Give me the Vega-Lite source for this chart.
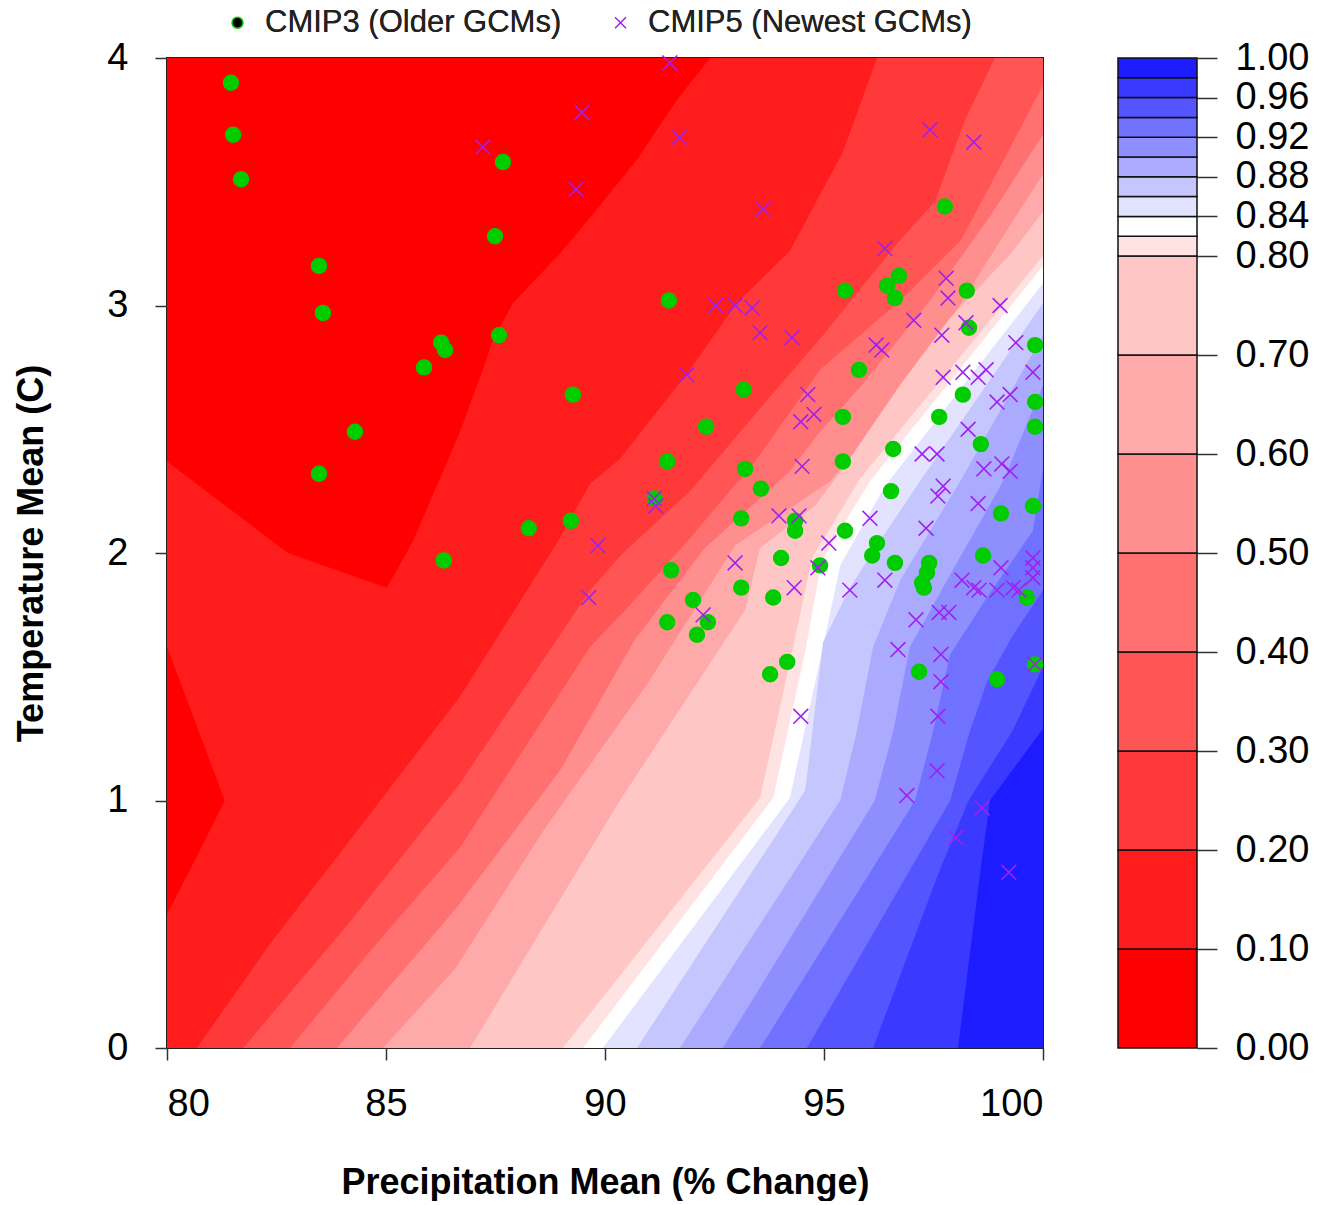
{
  "$schema": "https://vega.github.io/schema/vega-lite/v6.json",
  "background": "white",
  "padding": {"left": 12, "top": 6, "right": 0, "bottom": 0},
  "spacing": 75,
  "bounds": "flush",
  "config": {
    "font": "Liberation Sans",
    "view": {"stroke": null},
    "axis": {"labelFont": "Liberation Sans", "labelFontSize": 38, "labelColor": "#000", "tickColor": "#333", "tickWidth": 1.5, "domain": false, "grid": false, "titleFont": "Liberation Sans", "titleFontSize": 36, "titleFontWeight": "bold", "titleColor": "#000"}
  },
  "datasets": {
    "contours": [
      {"lvl": "0.00", "i": 1, "x": 80, "y": 0}, {"lvl": "0.00", "i": 2, "x": 80, "y": 4}, {"lvl": "0.00", "i": 3, "x": 100, "y": 4}, {"lvl": "0.00", "i": 4, "x": 100, "y": 0},
      {"lvl": "0.10", "i": 1, "x": 92.4, "y": 4}, {"lvl": "0.10", "i": 2, "x": 91.64, "y": 3.83}, {"lvl": "0.10", "i": 3, "x": 90.73, "y": 3.59}, {"lvl": "0.10", "i": 4, "x": 89.73, "y": 3.37}, {"lvl": "0.10", "i": 5, "x": 88.97, "y": 3.21}, {"lvl": "0.10", "i": 6, "x": 87.9, "y": 3.01}, {"lvl": "0.10", "i": 7, "x": 87.44, "y": 2.86}, {"lvl": "0.10", "i": 8, "x": 87.21, "y": 2.74}, {"lvl": "0.10", "i": 9, "x": 86.69, "y": 2.49}, {"lvl": "0.10", "i": 10, "x": 85.62, "y": 2.05}, {"lvl": "0.10", "i": 11, "x": 85.02, "y": 1.86}, {"lvl": "0.10", "i": 12, "x": 82.76, "y": 2.0}, {"lvl": "0.10", "i": 13, "x": 80, "y": 2.37}, {"lvl": "0.10", "i": 14, "x": 80, "y": 1.62}, {"lvl": "0.10", "i": 15, "x": 81.32, "y": 1.0}, {"lvl": "0.10", "i": 16, "x": 80.64, "y": 0.76}, {"lvl": "0.10", "i": 17, "x": 80, "y": 0.54}, {"lvl": "0.10", "i": 18, "x": 80, "y": 0}, {"lvl": "0.10", "i": 19, "x": 100, "y": 0}, {"lvl": "0.10", "i": 20, "x": 100, "y": 4},
      {"lvl": "0.20", "i": 1, "x": 96.21, "y": 4}, {"lvl": "0.20", "i": 2, "x": 95.43, "y": 3.62}, {"lvl": "0.20", "i": 3, "x": 94.22, "y": 3.22}, {"lvl": "0.20", "i": 4, "x": 93.01, "y": 3.01}, {"lvl": "0.20", "i": 5, "x": 91.94, "y": 2.74}, {"lvl": "0.20", "i": 6, "x": 90.34, "y": 2.38}, {"lvl": "0.20", "i": 7, "x": 89.66, "y": 2.28}, {"lvl": "0.20", "i": 8, "x": 88.9, "y": 2.04}, {"lvl": "0.20", "i": 9, "x": 86.69, "y": 1.42}, {"lvl": "0.20", "i": 10, "x": 84.57, "y": 0.93}, {"lvl": "0.20", "i": 11, "x": 82.35, "y": 0.42}, {"lvl": "0.20", "i": 12, "x": 80.68, "y": 0}, {"lvl": "0.20", "i": 13, "x": 100, "y": 0}, {"lvl": "0.20", "i": 14, "x": 100, "y": 4},
      {"lvl": "0.30", "i": 1, "x": 98.9, "y": 4}, {"lvl": "0.30", "i": 2, "x": 98.22, "y": 3.75}, {"lvl": "0.30", "i": 3, "x": 97.53, "y": 3.42}, {"lvl": "0.30", "i": 4, "x": 96.62, "y": 3.24}, {"lvl": "0.30", "i": 5, "x": 94.98, "y": 2.88}, {"lvl": "0.30", "i": 6, "x": 93.47, "y": 2.57}, {"lvl": "0.30", "i": 7, "x": 91.94, "y": 2.25}, {"lvl": "0.30", "i": 8, "x": 90.41, "y": 2.0}, {"lvl": "0.30", "i": 9, "x": 89.66, "y": 1.85}, {"lvl": "0.30", "i": 10, "x": 86.69, "y": 1.07}, {"lvl": "0.30", "i": 11, "x": 84.18, "y": 0.51}, {"lvl": "0.30", "i": 12, "x": 81.74, "y": 0}, {"lvl": "0.30", "i": 13, "x": 100, "y": 0}, {"lvl": "0.30", "i": 14, "x": 100, "y": 4},
      {"lvl": "0.40", "i": 1, "x": 100, "y": 3.89}, {"lvl": "0.40", "i": 2, "x": 99.02, "y": 3.56}, {"lvl": "0.40", "i": 3, "x": 98.11, "y": 3.26}, {"lvl": "0.40", "i": 4, "x": 96.74, "y": 3.02}, {"lvl": "0.40", "i": 5, "x": 94.91, "y": 2.74}, {"lvl": "0.40", "i": 6, "x": 93.47, "y": 2.38}, {"lvl": "0.40", "i": 7, "x": 91.94, "y": 2.06}, {"lvl": "0.40", "i": 8, "x": 90.57, "y": 1.79}, {"lvl": "0.40", "i": 9, "x": 89.66, "y": 1.62}, {"lvl": "0.40", "i": 10, "x": 86.69, "y": 0.81}, {"lvl": "0.40", "i": 11, "x": 84.63, "y": 0.39}, {"lvl": "0.40", "i": 12, "x": 82.81, "y": 0}, {"lvl": "0.40", "i": 13, "x": 100, "y": 0},
      {"lvl": "0.50", "i": 1, "x": 100, "y": 3.69}, {"lvl": "0.50", "i": 2, "x": 98.79, "y": 3.36}, {"lvl": "0.50", "i": 3, "x": 97.42, "y": 3.02}, {"lvl": "0.50", "i": 4, "x": 95.82, "y": 2.67}, {"lvl": "0.50", "i": 5, "x": 94.91, "y": 2.49}, {"lvl": "0.50", "i": 6, "x": 94.22, "y": 2.33}, {"lvl": "0.50", "i": 7, "x": 92.28, "y": 2.02}, {"lvl": "0.50", "i": 8, "x": 90.68, "y": 1.65}, {"lvl": "0.50", "i": 9, "x": 88.97, "y": 1.12}, {"lvl": "0.50", "i": 10, "x": 86.58, "y": 0.56}, {"lvl": "0.50", "i": 11, "x": 83.88, "y": 0}, {"lvl": "0.50", "i": 12, "x": 100, "y": 0},
      {"lvl": "0.60", "i": 1, "x": 100, "y": 3.53}, {"lvl": "0.60", "i": 2, "x": 99.02, "y": 3.26}, {"lvl": "0.60", "i": 3, "x": 97.88, "y": 2.94}, {"lvl": "0.60", "i": 4, "x": 96.28, "y": 2.53}, {"lvl": "0.60", "i": 5, "x": 95.14, "y": 2.29}, {"lvl": "0.60", "i": 6, "x": 92.97, "y": 2.03}, {"lvl": "0.60", "i": 7, "x": 91.0, "y": 1.48}, {"lvl": "0.60", "i": 8, "x": 88.6, "y": 0.88}, {"lvl": "0.60", "i": 9, "x": 86.58, "y": 0.32}, {"lvl": "0.60", "i": 10, "x": 84.93, "y": 0}, {"lvl": "0.60", "i": 11, "x": 100, "y": 0},
      {"lvl": "0.70", "i": 1, "x": 100, "y": 3.38}, {"lvl": "0.70", "i": 2, "x": 99.32, "y": 3.22}, {"lvl": "0.70", "i": 3, "x": 97.88, "y": 2.95}, {"lvl": "0.70", "i": 4, "x": 96.74, "y": 2.68}, {"lvl": "0.70", "i": 5, "x": 95.43, "y": 2.34}, {"lvl": "0.70", "i": 6, "x": 94.79, "y": 2.19}, {"lvl": "0.70", "i": 7, "x": 93.54, "y": 2.02}, {"lvl": "0.70", "i": 8, "x": 93.2, "y": 1.77}, {"lvl": "0.70", "i": 9, "x": 90.34, "y": 1.0}, {"lvl": "0.70", "i": 10, "x": 86.92, "y": 0}, {"lvl": "0.70", "i": 11, "x": 100, "y": 0},
      {"lvl": "0.80", "i": 1, "x": 100, "y": 3.2}, {"lvl": "0.80", "i": 2, "x": 95.82, "y": 2.3}, {"lvl": "0.80", "i": 3, "x": 94.73, "y": 1.98}, {"lvl": "0.80", "i": 4, "x": 94.27, "y": 1.6}, {"lvl": "0.80", "i": 5, "x": 93.54, "y": 1.01}, {"lvl": "0.80", "i": 6, "x": 89.04, "y": 0}, {"lvl": "0.80", "i": 7, "x": 100, "y": 0},
      {"lvl": "0.82", "i": 1, "x": 100, "y": 3.16}, {"lvl": "0.82", "i": 2, "x": 96.05, "y": 2.29}, {"lvl": "0.82", "i": 3, "x": 94.95, "y": 1.97}, {"lvl": "0.82", "i": 4, "x": 94.57, "y": 1.6}, {"lvl": "0.82", "i": 5, "x": 93.84, "y": 1.01}, {"lvl": "0.82", "i": 6, "x": 89.5, "y": 0}, {"lvl": "0.82", "i": 7, "x": 100, "y": 0},
      {"lvl": "0.84", "i": 1, "x": 100, "y": 3.09}, {"lvl": "0.84", "i": 2, "x": 96.39, "y": 2.27}, {"lvl": "0.84", "i": 3, "x": 95.37, "y": 1.95}, {"lvl": "0.84", "i": 4, "x": 94.95, "y": 1.6}, {"lvl": "0.84", "i": 5, "x": 94.22, "y": 1.01}, {"lvl": "0.84", "i": 6, "x": 89.95, "y": 0}, {"lvl": "0.84", "i": 7, "x": 100, "y": 0},
      {"lvl": "0.86", "i": 1, "x": 100, "y": 3.01}, {"lvl": "0.86", "i": 2, "x": 97.19, "y": 2.29}, {"lvl": "0.86", "i": 3, "x": 96.28, "y": 2.05}, {"lvl": "0.86", "i": 4, "x": 95.59, "y": 1.86}, {"lvl": "0.86", "i": 5, "x": 94.98, "y": 1.64}, {"lvl": "0.86", "i": 6, "x": 94.57, "y": 1.04}, {"lvl": "0.86", "i": 7, "x": 90.73, "y": 0}, {"lvl": "0.86", "i": 8, "x": 100, "y": 0},
      {"lvl": "0.88", "i": 1, "x": 100, "y": 2.88}, {"lvl": "0.88", "i": 2, "x": 98.11, "y": 2.29}, {"lvl": "0.88", "i": 3, "x": 96.74, "y": 1.89}, {"lvl": "0.88", "i": 4, "x": 96.12, "y": 1.62}, {"lvl": "0.88", "i": 5, "x": 95.75, "y": 1.28}, {"lvl": "0.88", "i": 6, "x": 95.37, "y": 1.0}, {"lvl": "0.88", "i": 7, "x": 91.71, "y": 0}, {"lvl": "0.88", "i": 8, "x": 100, "y": 0},
      {"lvl": "0.90", "i": 1, "x": 100, "y": 2.68}, {"lvl": "0.90", "i": 2, "x": 99.09, "y": 2.29}, {"lvl": "0.90", "i": 3, "x": 97.81, "y": 1.89}, {"lvl": "0.90", "i": 4, "x": 96.96, "y": 1.62}, {"lvl": "0.90", "i": 5, "x": 96.58, "y": 1.28}, {"lvl": "0.90", "i": 6, "x": 96.16, "y": 1.0}, {"lvl": "0.90", "i": 7, "x": 92.69, "y": 0}, {"lvl": "0.90", "i": 8, "x": 100, "y": 0},
      {"lvl": "0.92", "i": 1, "x": 100, "y": 2.34}, {"lvl": "0.92", "i": 2, "x": 99.77, "y": 2.09}, {"lvl": "0.92", "i": 3, "x": 98.72, "y": 1.82}, {"lvl": "0.92", "i": 4, "x": 97.88, "y": 1.59}, {"lvl": "0.92", "i": 5, "x": 97.49, "y": 1.28}, {"lvl": "0.92", "i": 6, "x": 97.08, "y": 1.0}, {"lvl": "0.92", "i": 7, "x": 93.54, "y": 0}, {"lvl": "0.92", "i": 8, "x": 100, "y": 0},
      {"lvl": "0.94", "i": 1, "x": 100, "y": 1.85}, {"lvl": "0.94", "i": 2, "x": 99.32, "y": 1.67}, {"lvl": "0.94", "i": 3, "x": 98.72, "y": 1.48}, {"lvl": "0.94", "i": 4, "x": 98.33, "y": 1.28}, {"lvl": "0.94", "i": 5, "x": 97.88, "y": 1.0}, {"lvl": "0.94", "i": 6, "x": 94.61, "y": 0}, {"lvl": "0.94", "i": 7, "x": 100, "y": 0},
      {"lvl": "0.96", "i": 1, "x": 100, "y": 1.54}, {"lvl": "0.96", "i": 2, "x": 99.3, "y": 1.28}, {"lvl": "0.96", "i": 3, "x": 98.3, "y": 1.0}, {"lvl": "0.96", "i": 4, "x": 97.6, "y": 0.7}, {"lvl": "0.96", "i": 5, "x": 96.12, "y": 0}, {"lvl": "0.96", "i": 6, "x": 100, "y": 0},
      {"lvl": "0.98", "i": 1, "x": 100, "y": 1.29}, {"lvl": "0.98", "i": 2, "x": 98.79, "y": 1.0}, {"lvl": "0.98", "i": 3, "x": 98.56, "y": 0.7}, {"lvl": "0.98", "i": 4, "x": 98.06, "y": 0}, {"lvl": "0.98", "i": 5, "x": 100, "y": 0}
    ],
    "points": [
      {"m": "CMIP3 (Older GCMs)", "p": 81.46, "t": 3.9}, {"m": "CMIP3 (Older GCMs)", "p": 81.51, "t": 3.69}, {"m": "CMIP3 (Older GCMs)", "p": 81.69, "t": 3.51}, {"m": "CMIP3 (Older GCMs)", "p": 83.47, "t": 3.16}, {"m": "CMIP3 (Older GCMs)", "p": 83.56, "t": 2.97}, {"m": "CMIP3 (Older GCMs)", "p": 86.26, "t": 2.85}, {"m": "CMIP3 (Older GCMs)", "p": 86.35, "t": 2.82}, {"m": "CMIP3 (Older GCMs)", "p": 85.87, "t": 2.75}, {"m": "CMIP3 (Older GCMs)", "p": 84.29, "t": 2.49}, {"m": "CMIP3 (Older GCMs)", "p": 83.47, "t": 2.32}, {"m": "CMIP3 (Older GCMs)", "p": 86.32, "t": 1.97},
      {"m": "CMIP3 (Older GCMs)", "p": 87.67, "t": 3.58}, {"m": "CMIP3 (Older GCMs)", "p": 87.49, "t": 3.28}, {"m": "CMIP3 (Older GCMs)", "p": 87.58, "t": 2.88}, {"m": "CMIP3 (Older GCMs)", "p": 91.46, "t": 3.02}, {"m": "CMIP3 (Older GCMs)", "p": 89.27, "t": 2.64}, {"m": "CMIP3 (Older GCMs)", "p": 93.17, "t": 2.66}, {"m": "CMIP3 (Older GCMs)", "p": 92.31, "t": 2.51}, {"m": "CMIP3 (Older GCMs)", "p": 91.42, "t": 2.37}, {"m": "CMIP3 (Older GCMs)", "p": 93.2, "t": 2.34}, {"m": "CMIP3 (Older GCMs)", "p": 91.14, "t": 2.22}, {"m": "CMIP3 (Older GCMs)", "p": 89.22, "t": 2.13}, {"m": "CMIP3 (Older GCMs)", "p": 88.26, "t": 2.1}, {"m": "CMIP3 (Older GCMs)", "p": 93.11, "t": 2.14},
      {"m": "CMIP3 (Older GCMs)", "p": 93.56, "t": 2.26}, {"m": "CMIP3 (Older GCMs)", "p": 94.34, "t": 2.13}, {"m": "CMIP3 (Older GCMs)", "p": 94.34, "t": 2.09}, {"m": "CMIP3 (Older GCMs)", "p": 94.02, "t": 1.98}, {"m": "CMIP3 (Older GCMs)", "p": 91.51, "t": 1.93}, {"m": "CMIP3 (Older GCMs)", "p": 93.11, "t": 1.86}, {"m": "CMIP3 (Older GCMs)", "p": 93.84, "t": 1.82}, {"m": "CMIP3 (Older GCMs)", "p": 92.01, "t": 1.81}, {"m": "CMIP3 (Older GCMs)", "p": 91.42, "t": 1.72}, {"m": "CMIP3 (Older GCMs)", "p": 92.35, "t": 1.72}, {"m": "CMIP3 (Older GCMs)", "p": 92.1, "t": 1.67}, {"m": "CMIP3 (Older GCMs)", "p": 94.16, "t": 1.56}, {"m": "CMIP3 (Older GCMs)", "p": 93.77, "t": 1.51}, {"m": "CMIP3 (Older GCMs)", "p": 94.91, "t": 1.95},
      {"m": "CMIP3 (Older GCMs)", "p": 97.76, "t": 3.4}, {"m": "CMIP3 (Older GCMs)", "p": 96.71, "t": 3.12}, {"m": "CMIP3 (Older GCMs)", "p": 96.44, "t": 3.08}, {"m": "CMIP3 (Older GCMs)", "p": 96.62, "t": 3.03}, {"m": "CMIP3 (Older GCMs)", "p": 95.48, "t": 3.06}, {"m": "CMIP3 (Older GCMs)", "p": 98.26, "t": 3.06}, {"m": "CMIP3 (Older GCMs)", "p": 98.31, "t": 2.91}, {"m": "CMIP3 (Older GCMs)", "p": 99.82, "t": 2.84}, {"m": "CMIP3 (Older GCMs)", "p": 95.8, "t": 2.74}, {"m": "CMIP3 (Older GCMs)", "p": 98.17, "t": 2.64}, {"m": "CMIP3 (Older GCMs)", "p": 95.43, "t": 2.55}, {"m": "CMIP3 (Older GCMs)", "p": 97.63, "t": 2.55}, {"m": "CMIP3 (Older GCMs)", "p": 99.82, "t": 2.61}, {"m": "CMIP3 (Older GCMs)", "p": 99.82, "t": 2.51}, {"m": "CMIP3 (Older GCMs)", "p": 98.58, "t": 2.44}, {"m": "CMIP3 (Older GCMs)", "p": 96.58, "t": 2.42}, {"m": "CMIP3 (Older GCMs)", "p": 95.43, "t": 2.37}, {"m": "CMIP3 (Older GCMs)", "p": 96.53, "t": 2.25}, {"m": "CMIP3 (Older GCMs)", "p": 99.04, "t": 2.16}, {"m": "CMIP3 (Older GCMs)", "p": 99.77, "t": 2.19}, {"m": "CMIP3 (Older GCMs)", "p": 95.48, "t": 2.09}, {"m": "CMIP3 (Older GCMs)", "p": 96.21, "t": 2.04},
      {"m": "CMIP3 (Older GCMs)", "p": 96.1, "t": 1.99}, {"m": "CMIP3 (Older GCMs)", "p": 96.62, "t": 1.96}, {"m": "CMIP3 (Older GCMs)", "p": 97.4, "t": 1.96}, {"m": "CMIP3 (Older GCMs)", "p": 97.35, "t": 1.92}, {"m": "CMIP3 (Older GCMs)", "p": 97.24, "t": 1.88}, {"m": "CMIP3 (Older GCMs)", "p": 97.28, "t": 1.86}, {"m": "CMIP3 (Older GCMs)", "p": 98.63, "t": 1.99}, {"m": "CMIP3 (Older GCMs)", "p": 99.63, "t": 1.82}, {"m": "CMIP3 (Older GCMs)", "p": 99.82, "t": 1.55}, {"m": "CMIP3 (Older GCMs)", "p": 97.17, "t": 1.52}, {"m": "CMIP3 (Older GCMs)", "p": 98.95, "t": 1.49},
      {"m": "CMIP5 (Newest GCMs)", "p": 91.48, "t": 3.98}, {"m": "CMIP5 (Newest GCMs)", "p": 89.47, "t": 3.78}, {"m": "CMIP5 (Newest GCMs)", "p": 87.21, "t": 3.64}, {"m": "CMIP5 (Newest GCMs)", "p": 91.69, "t": 3.68}, {"m": "CMIP5 (Newest GCMs)", "p": 89.34, "t": 3.47}, {"m": "CMIP5 (Newest GCMs)", "p": 92.53, "t": 3.0}, {"m": "CMIP5 (Newest GCMs)", "p": 92.97, "t": 3.0}, {"m": "CMIP5 (Newest GCMs)", "p": 93.36, "t": 2.99}, {"m": "CMIP5 (Newest GCMs)", "p": 91.87, "t": 2.72}, {"m": "CMIP5 (Newest GCMs)", "p": 91.12, "t": 2.22}, {"m": "CMIP5 (Newest GCMs)", "p": 91.16, "t": 2.19}, {"m": "CMIP5 (Newest GCMs)", "p": 89.84, "t": 2.03}, {"m": "CMIP5 (Newest GCMs)", "p": 89.63, "t": 1.82},
      {"m": "CMIP5 (Newest GCMs)", "p": 97.42, "t": 3.71}, {"m": "CMIP5 (Newest GCMs)", "p": 98.42, "t": 3.66}, {"m": "CMIP5 (Newest GCMs)", "p": 93.61, "t": 3.39}, {"m": "CMIP5 (Newest GCMs)", "p": 96.39, "t": 3.23}, {"m": "CMIP5 (Newest GCMs)", "p": 93.54, "t": 2.89}, {"m": "CMIP5 (Newest GCMs)", "p": 94.27, "t": 2.87}, {"m": "CMIP5 (Newest GCMs)", "p": 97.79, "t": 3.11}, {"m": "CMIP5 (Newest GCMs)", "p": 97.83, "t": 3.03}, {"m": "CMIP5 (Newest GCMs)", "p": 99.02, "t": 3.0}, {"m": "CMIP5 (Newest GCMs)", "p": 97.05, "t": 2.94}, {"m": "CMIP5 (Newest GCMs)", "p": 97.69, "t": 2.88}, {"m": "CMIP5 (Newest GCMs)", "p": 98.24, "t": 2.93}, {"m": "CMIP5 (Newest GCMs)", "p": 96.19, "t": 2.84}, {"m": "CMIP5 (Newest GCMs)", "p": 96.32, "t": 2.82}, {"m": "CMIP5 (Newest GCMs)", "p": 99.38, "t": 2.85},
      {"m": "CMIP5 (Newest GCMs)", "p": 97.72, "t": 2.71}, {"m": "CMIP5 (Newest GCMs)", "p": 98.17, "t": 2.73}, {"m": "CMIP5 (Newest GCMs)", "p": 98.52, "t": 2.71}, {"m": "CMIP5 (Newest GCMs)", "p": 98.7, "t": 2.74}, {"m": "CMIP5 (Newest GCMs)", "p": 99.77, "t": 2.73}, {"m": "CMIP5 (Newest GCMs)", "p": 94.63, "t": 2.64}, {"m": "CMIP5 (Newest GCMs)", "p": 94.77, "t": 2.56}, {"m": "CMIP5 (Newest GCMs)", "p": 94.47, "t": 2.53}, {"m": "CMIP5 (Newest GCMs)", "p": 99.25, "t": 2.64}, {"m": "CMIP5 (Newest GCMs)", "p": 98.95, "t": 2.61}, {"m": "CMIP5 (Newest GCMs)", "p": 98.29, "t": 2.5}, {"m": "CMIP5 (Newest GCMs)", "p": 97.24, "t": 2.4}, {"m": "CMIP5 (Newest GCMs)", "p": 97.58, "t": 2.4}, {"m": "CMIP5 (Newest GCMs)", "p": 98.65, "t": 2.34}, {"m": "CMIP5 (Newest GCMs)", "p": 99.06, "t": 2.36}, {"m": "CMIP5 (Newest GCMs)", "p": 99.25, "t": 2.33}, {"m": "CMIP5 (Newest GCMs)", "p": 94.5, "t": 2.35},
      {"m": "CMIP5 (Newest GCMs)", "p": 97.72, "t": 2.27}, {"m": "CMIP5 (Newest GCMs)", "p": 97.6, "t": 2.23}, {"m": "CMIP5 (Newest GCMs)", "p": 98.52, "t": 2.2}, {"m": "CMIP5 (Newest GCMs)", "p": 96.05, "t": 2.14}, {"m": "CMIP5 (Newest GCMs)", "p": 93.97, "t": 2.15}, {"m": "CMIP5 (Newest GCMs)", "p": 94.43, "t": 2.15}, {"m": "CMIP5 (Newest GCMs)", "p": 97.33, "t": 2.1}, {"m": "CMIP5 (Newest GCMs)", "p": 95.11, "t": 2.04}, {"m": "CMIP5 (Newest GCMs)", "p": 92.97, "t": 1.96}, {"m": "CMIP5 (Newest GCMs)", "p": 94.86, "t": 1.94}, {"m": "CMIP5 (Newest GCMs)", "p": 94.32, "t": 1.86}, {"m": "CMIP5 (Newest GCMs)", "p": 92.24, "t": 1.75}, {"m": "CMIP5 (Newest GCMs)", "p": 95.59, "t": 1.85}, {"m": "CMIP5 (Newest GCMs)", "p": 96.39, "t": 1.89},
      {"m": "CMIP5 (Newest GCMs)", "p": 98.15, "t": 1.89}, {"m": "CMIP5 (Newest GCMs)", "p": 98.42, "t": 1.86}, {"m": "CMIP5 (Newest GCMs)", "p": 98.54, "t": 1.85}, {"m": "CMIP5 (Newest GCMs)", "p": 98.95, "t": 1.85}, {"m": "CMIP5 (Newest GCMs)", "p": 99.04, "t": 1.94}, {"m": "CMIP5 (Newest GCMs)", "p": 99.32, "t": 1.86}, {"m": "CMIP5 (Newest GCMs)", "p": 99.45, "t": 1.85}, {"m": "CMIP5 (Newest GCMs)", "p": 99.77, "t": 1.98}, {"m": "CMIP5 (Newest GCMs)", "p": 99.77, "t": 1.94}, {"m": "CMIP5 (Newest GCMs)", "p": 99.77, "t": 1.9}, {"m": "CMIP5 (Newest GCMs)", "p": 99.82, "t": 1.55},
      {"m": "CMIP5 (Newest GCMs)", "p": 97.1, "t": 1.73}, {"m": "CMIP5 (Newest GCMs)", "p": 97.63, "t": 1.76}, {"m": "CMIP5 (Newest GCMs)", "p": 97.85, "t": 1.76}, {"m": "CMIP5 (Newest GCMs)", "p": 96.69, "t": 1.61}, {"m": "CMIP5 (Newest GCMs)", "p": 97.67, "t": 1.59}, {"m": "CMIP5 (Newest GCMs)", "p": 97.67, "t": 1.48}, {"m": "CMIP5 (Newest GCMs)", "p": 97.6, "t": 1.34}, {"m": "CMIP5 (Newest GCMs)", "p": 94.47, "t": 1.34}, {"m": "CMIP5 (Newest GCMs)", "p": 97.58, "t": 1.12}, {"m": "CMIP5 (Newest GCMs)", "p": 96.89, "t": 1.02}, {"m": "CMIP5 (Newest GCMs)", "p": 98.61, "t": 0.97}, {"m": "CMIP5 (Newest GCMs)", "p": 98.01, "t": 0.85}, {"m": "CMIP5 (Newest GCMs)", "p": 99.22, "t": 0.71}
    ],
    "bands": [
      {"lvl": "0.00", "lo": 0.0, "hi": 0.1}, {"lvl": "0.10", "lo": 0.1, "hi": 0.2}, {"lvl": "0.20", "lo": 0.2, "hi": 0.3}, {"lvl": "0.30", "lo": 0.3, "hi": 0.4}, {"lvl": "0.40", "lo": 0.4, "hi": 0.5}, {"lvl": "0.50", "lo": 0.5, "hi": 0.6}, {"lvl": "0.60", "lo": 0.6, "hi": 0.7}, {"lvl": "0.70", "lo": 0.7, "hi": 0.8}, {"lvl": "0.80", "lo": 0.8, "hi": 0.82}, {"lvl": "0.82", "lo": 0.82, "hi": 0.84}, {"lvl": "0.84", "lo": 0.84, "hi": 0.86}, {"lvl": "0.86", "lo": 0.86, "hi": 0.88}, {"lvl": "0.88", "lo": 0.88, "hi": 0.9}, {"lvl": "0.90", "lo": 0.9, "hi": 0.92}, {"lvl": "0.92", "lo": 0.92, "hi": 0.94}, {"lvl": "0.94", "lo": 0.94, "hi": 0.96}, {"lvl": "0.96", "lo": 0.96, "hi": 0.98}, {"lvl": "0.98", "lo": 0.98, "hi": 1.0}
    ]
  },
  "hconcat": [
    {
      "width": 876,
      "height": 990,
      "view": {"stroke": "#222", "strokeWidth": 2},
      "resolve": {"scale": {"fill": "independent"}},
      "layer": [
        {
          "data": {"name": "contours"},
          "mark": {"type": "line", "interpolate": "linear-closed", "strokeWidth": 0, "clip": true},
          "encoding": {
            "x": {"field": "x", "type": "quantitative", "scale": {"domain": [80, 100], "nice": false, "zero": false},
                  "axis": {"values": [80, 85, 90, 95, 100], "format": "d", "tickSize": 12, "labelPadding": 25, "title": "Precipitation Mean (% Change)", "titlePadding": 42}},
            "y": {"field": "y", "type": "quantitative", "scale": {"domain": [0, 4], "nice": false, "zero": false},
                  "axis": {"values": [0, 1, 2, 3, 4], "format": "d", "tickSize": 12, "labelPadding": 27, "title": "Temperature Mean (C)", "titlePadding": 56}},
            "order": {"field": "i", "type": "quantitative"},
            "fill": {"field": "lvl", "type": "nominal", "legend": null,
                     "scale": {"domain": ["0.00", "0.10", "0.20", "0.30", "0.40", "0.50", "0.60", "0.70", "0.80", "0.82", "0.84", "0.86", "0.88", "0.90", "0.92", "0.94", "0.96", "0.98"],
                               "range": ["#FF0000", "#FF1C1C", "#FF3939", "#FF5555", "#FF7171", "#FF8E8E", "#FFAAAA", "#FFC6C6", "#FFE3E3", "#FFFFFF", "#E3E3FF", "#C6C6FF", "#AAAAFF", "#8E8EFF", "#7171FF", "#5555FF", "#3939FF", "#1C1CFF"]}}
          }
        },
        {
          "data": {"name": "points"},
          "mark": {"type": "point", "size": 220, "strokeWidth": 1.6, "opacity": 1},
          "encoding": {
            "x": {"field": "p", "type": "quantitative"},
            "y": {"field": "t", "type": "quantitative"},
            "shape": {"field": "m", "type": "nominal",
                      "scale": {"domain": ["CMIP3 (Older GCMs)", "CMIP5 (Newest GCMs)"], "range": ["circle", "M-1,-1L1,1M-1,1L1,-1"]},
                      "legend": {"orient": "none", "legendX": 55, "legendY": -51, "direction": "horizontal", "title": null, "labelFontSize": 31, "labelFont": "Liberation Sans", "labelColor": "#222", "labelLimit": 0, "symbolSize": 120, "symbolStrokeWidth": 1.5, "columnPadding": 43, "labelOffset": 12}},
            "fill": {"field": "m", "type": "nominal",
                     "scale": {"domain": ["CMIP3 (Older GCMs)", "CMIP5 (Newest GCMs)"], "range": ["#00CC00", "transparent"]},
                     "legend": {"orient": "none", "legendX": 55, "legendY": -51, "direction": "horizontal", "title": null, "labelFontSize": 31, "labelFont": "Liberation Sans", "labelColor": "#222", "labelLimit": 0, "symbolSize": 120, "symbolStrokeWidth": 1.5, "columnPadding": 43, "labelOffset": 12}},
            "stroke": {"field": "m", "type": "nominal",
                       "scale": {"domain": ["CMIP3 (Older GCMs)", "CMIP5 (Newest GCMs)"], "range": ["#00CC00", "#A020F0"]},
                       "legend": {"orient": "none", "legendX": 55, "legendY": -51, "direction": "horizontal", "title": null, "labelFontSize": 31, "labelFont": "Liberation Sans", "labelColor": "#222", "labelLimit": 0, "symbolSize": 120, "symbolStrokeWidth": 1.5, "columnPadding": 43, "labelOffset": 12}}
          }
        }
      ]
    },
    {
      "width": 79,
      "height": 990,
      "data": {"name": "bands"},
      "mark": {"type": "rect", "stroke": "#111", "strokeWidth": 1.5},
      "encoding": {
        "y": {"field": "lo", "type": "quantitative", "scale": {"domain": [0, 1], "nice": false, "zero": false},
              "axis": {"orient": "right", "values": [0, 0.1, 0.2, 0.3, 0.4, 0.5, 0.6, 0.7, 0.8, 0.84, 0.88, 0.92, 0.96, 1.0], "format": ".2f", "tickSize": 20, "labelPadding": 18, "title": null}},
        "y2": {"field": "hi"},
        "fill": {"field": "lvl", "type": "nominal", "legend": null,
                 "scale": {"domain": ["0.00", "0.10", "0.20", "0.30", "0.40", "0.50", "0.60", "0.70", "0.80", "0.82", "0.84", "0.86", "0.88", "0.90", "0.92", "0.94", "0.96", "0.98"],
                           "range": ["#FF0000", "#FF1C1C", "#FF3939", "#FF5555", "#FF7171", "#FF8E8E", "#FFAAAA", "#FFC6C6", "#FFE3E3", "#FFFFFF", "#E3E3FF", "#C6C6FF", "#AAAAFF", "#8E8EFF", "#7171FF", "#5555FF", "#3939FF", "#1C1CFF"]}}
      }
    }
  ],
  "resolve": {"scale": {"fill": "independent", "y": "independent"}}
}
